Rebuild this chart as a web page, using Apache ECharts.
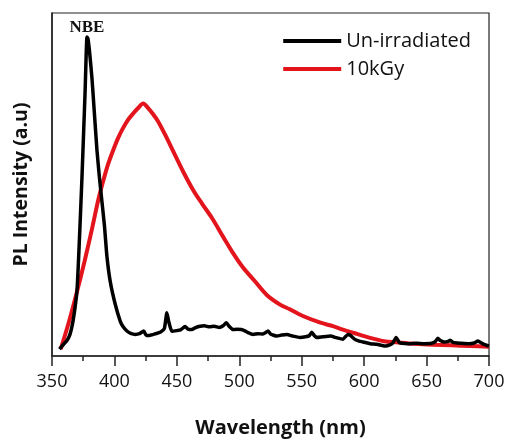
<!DOCTYPE html>
<html>
<head>
<meta charset="utf-8">
<script src="https://cdn.jsdelivr.net/npm/echarts@6/dist/echarts.min.js"></script>
<style>
  html, body { margin: 0; padding: 0; background: #fff; }
  #main { width: 508px; height: 443px; }
</style>
</head>
<body>
<div id="main"></div>
<script>
// x tick labels
var xTicks = [350, 400, 450, 500, 550, 600, 650, 700];

// Un-irradiated (black) spectrum
var unWave = [356, 358, 362, 364.4, 366.5, 368.4, 370, 371, 372.4, 374, 375.4, 376.5, 377.3, 378, 378.8, 380, 382, 384, 386, 388, 390, 392, 394, 396.7, 400.7, 404.7, 407, 410, 413, 416.8, 420, 423.5, 425.5, 428, 433, 437, 440, 442, 443.5, 446, 450, 453, 456.6, 459, 462, 465, 468.6, 472, 476, 480, 484, 487, 489.6, 492, 495, 498, 501.6, 504, 507, 511, 515, 519, 521, 523, 525, 530, 534, 538, 543, 548.7, 553, 556, 558, 560, 562, 567, 573, 578, 583, 587, 589, 592, 595.5, 600, 605, 610, 614, 617, 621, 623, 625.6, 628, 630, 636, 642, 648, 654, 657, 659, 661, 664, 667, 669, 671, 675, 678, 684, 688, 690, 691, 693, 696, 700];
var unVal = [2.0, 2.9, 4.5, 6.3, 9.5, 14, 19, 26, 37.8, 52, 66, 77, 87, 93, 92.5, 89, 81, 70.5, 60, 52, 45, 38, 29, 21.6, 15, 10.1, 8.5, 7.3, 6.6, 6.3, 6.5, 7.3, 6.0, 6.0, 6.5, 7, 8, 12.6, 10, 7.2, 7.4, 7.6, 8.6, 7.8, 7.7, 8.3, 8.7, 8.8, 8.5, 8.7, 8.3, 8.8, 9.7, 8.6, 7.7, 7.8, 7.7, 7.4, 6.8, 6.3, 6.5, 6.4, 6.8, 7.3, 6.4, 5.8, 6.1, 6.3, 5.8, 5.4, 5.6, 5.9, 6.9, 6.0, 5.4, 5.6, 5.8, 5.3, 4.9, 6.3, 6.0, 5.0, 4.4, 4.0, 3.6, 3.4, 3.1, 2.9, 3.3, 3.8, 5.4, 4.0, 3.7, 3.6, 3.7, 3.6, 3.7, 4.2, 5.2, 4.5, 4.1, 4.2, 4.6, 4.0, 3.8, 3.7, 3.6, 3.8, 4.2, 4.4, 4.0, 3.4, 2.9];

// 10kGy (red) spectrum
var kgyWave = [357, 364, 370, 376, 382, 387, 391, 395, 399, 403, 407, 411, 415, 419, 423, 427, 431, 435, 440.5, 448, 455, 463, 470, 478, 487, 495, 503, 512, 522, 533, 540, 550, 565, 575, 583, 592, 600, 608, 616, 626, 640, 655, 670, 685, 700];
var kgyVal = [2.0, 10.5, 18.7, 27.5, 37, 45.4, 51, 56, 60, 63.6, 66.5, 68.9, 70.7, 72.3, 73.6, 72.3, 70.5, 68.4, 64.6, 59, 53.8, 48.4, 44.5, 40.3, 34.8, 30, 25.8, 22, 17.8, 14.9, 13.7, 11.8, 9.7, 8.7, 7.7, 6.7, 5.8, 5.0, 4.3, 4.0, 3.6, 3.3, 3.1, 2.9, 2.7];

var seriesNames = ['Un-irradiated', '10kGy'];
var peakLabel = 'NBE';

function pairs(xs, ys) {
    return xs.map(function (x, i) { return [x, ys[i]]; });
}

// peak of the black curve, for the NBE label
var peakIdx = unVal.indexOf(Math.max.apply(null, unVal));

var chart = echarts.init(document.getElementById('main'));
chart.setOption({
    animation: false,
    backgroundColor: '#fff',
    grid: {
        left: 52, right: 19, top: 13, bottom: 81,
        show: true, borderColor: '#222', borderWidth: 1.2
    },
    legend: {
        data: seriesNames,
        orient: 'vertical',
        right: 32,
        top: 26,
        itemWidth: 58,
        itemHeight: 4,
        itemGap: 8,
        icon: 'rect',
        textStyle: { fontFamily: 'Open Sans', fontSize: 20, color: '#111' }
    },
    xAxis: {
        type: 'value',
        min: 350,
        max: 700,
        interval: 50,
        name: 'Wavelength (nm)',
        nameLocation: 'middle',
        nameGap: 62,
        nameTextStyle: {
            fontFamily: 'Open Sans', fontSize: 20, fontWeight: 'bold', color: '#111',
            padding: [0, 0, 0, 20]
        },
        axisLine: { lineStyle: { color: '#222', width: 1.5 } },
        axisTick: { show: true, length: 10, lineStyle: { color: '#222', width: 1.5 } },
        minorTick: { show: true, splitNumber: 2, length: 5, lineStyle: { color: '#222', width: 1.5 } },
        splitLine: { show: false },
        axisLabel: {
            margin: 17,
            fontFamily: 'Open Sans', fontSize: 18, color: '#111',
            formatter: function (v) { return xTicks.indexOf(v) >= 0 ? String(v) : ''; }
        }
    },
    yAxis: {
        type: 'value',
        min: 0,
        max: 100,
        name: 'PL Intensity (a.u)',
        nameLocation: 'middle',
        nameGap: 21,
        nameTextStyle: { fontFamily: 'Open Sans', fontSize: 19.5, fontWeight: 'bold', color: '#111' },
        axisLine: { show: true, lineStyle: { color: '#222', width: 1.5 } },
        axisTick: { show: false },
        axisLabel: { show: false },
        splitLine: { show: false }
    },
    series: [
        {
            name: seriesNames[0],
            type: 'line',
            data: pairs(unWave, unVal),
            showSymbol: false,
            smooth: 0.15,
            color: '#000',
            lineStyle: { color: '#000', width: 3.5 },
            markPoint: {
                symbolSize: 0,
                data: [{ coord: [unWave[peakIdx], unVal[peakIdx]] }],
                label: {
                    show: true,
                    position: 'top',
                    distance: 1,
                    formatter: peakLabel,
                    fontFamily: 'Liberation Serif',
                    fontWeight: 'bold',
                    fontSize: 17,
                    color: '#111'
                }
            },
            z: 3
        },
        {
            name: seriesNames[1],
            type: 'line',
            data: pairs(kgyWave, kgyVal),
            showSymbol: false,
            smooth: 0.3,
            color: '#e3141c',
            lineStyle: { color: '#e3141c', width: 4 },
            z: 2
        }
    ]
});
</script>
</body>
</html>
